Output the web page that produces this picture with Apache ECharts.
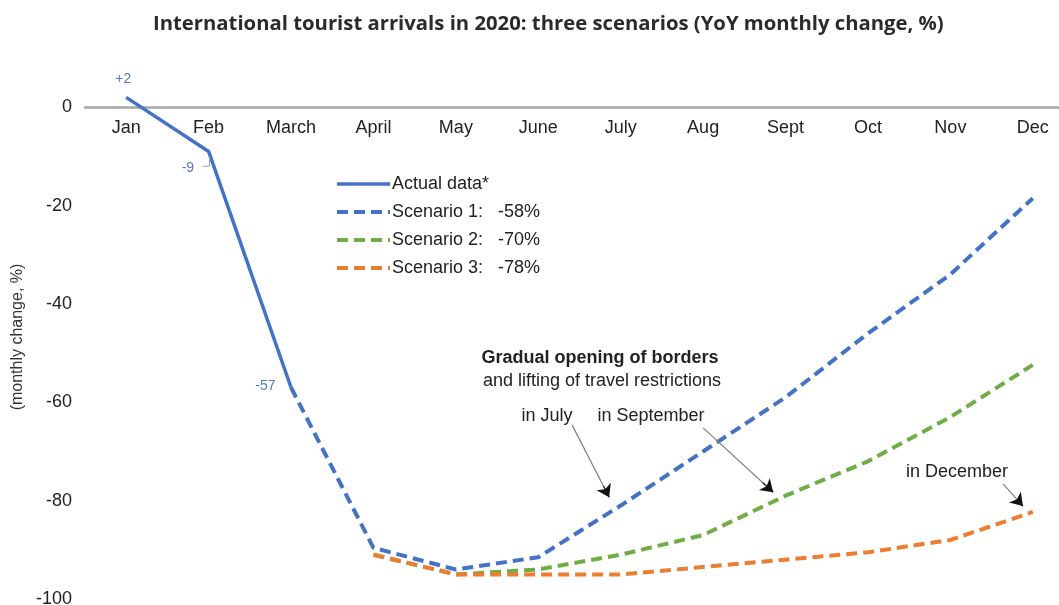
<!DOCTYPE html>
<html>
<head>
<meta charset="utf-8">
<script src="https://cdn.jsdelivr.net/npm/echarts@6/dist/echarts.min.js"></script>
<style>html,body{margin:0;padding:0;background:#fff}#c{width:1059px;height:605px}</style>
</head>
<body>
<div id="c"></div>
<script>
const months = ['Jan','Feb','March','April','May','June','July','Aug','Sept','Oct','Nov','Dec'];
const actual = [2, -9, -57, null, null, null, null, null, null, null, null, null];
const scenario1 = [null, null, -57, -89.6, -94, -91.5, -81, -70, -59, -46, -34, -18.5];
const scenario2 = [null, null, null, -91, -95, -94, -91, -87, -79, -72, -63, -52.4];
const scenario3 = [null, null, null, -91, -95, -95, -95, -93.5, -92, -90.5, -88, -82.3];
const yTicks = [0, -20, -40, -60, -80, -100];
const names = ['Actual data*', 'Scenario 1:   -58%', 'Scenario 2:   -70%', 'Scenario 3:   -78%'];
// annotation arrows in (month index, value) space
const arrows = [
  [[5.41, -64.6], [5.86, -79.3]],
  [[7.0, -65.2], [7.85, -78.3]],
  [[10.64, -76.6], [10.88, -81.1]]
];
const febHook = [[0.93, -12.0], [1.01, -12.0], [1.01, -10.2]];

const blue = '#4472C4', green = '#70AD47', orange = '#ED7D31';
const lblBlue = '#5479c8';
const font = 'Liberation Sans, Arial, sans-serif';

// short end pieces of each arrow for the black arrow heads
const arrowHeads = arrows.map(([a, b]) => ({coords: [[a[0] + (b[0] - a[0]) * 0.85, a[1] + (b[1] - a[1]) * 0.85], b]}));

const chart = echarts.init(document.getElementById('c'));
chart.setOption({
  animation: false,
  title: {
    text: 'International tourist arrivals in 2020: three scenarios (YoY monthly change, %)',
    left: 148, top: 9,
    textStyle: {fontFamily: 'Open Sans', fontWeight: 'bold', fontSize: 20.3, color: '#2b2b2b'}
  },
  legend: {
    orient: 'vertical', left: 335, top: 175, padding: 0,
    itemWidth: 53, itemHeight: 14, itemGap: 10,
    itemStyle: {opacity: 0},
    data: [
      {name: names[0], lineStyle: {width: 3.5}},
      {name: names[1], lineStyle: {width: 4}},
      {name: names[2], lineStyle: {width: 4}},
      {name: names[3], lineStyle: {width: 4}}
    ],
    textStyle: {fontFamily: font, fontSize: 18, lineHeight: 18, color: '#222', padding: [0, 0, 0, -3]}
  },
  grid: {left: 85, width: 989, top: 58, bottom: 6, containLabel: false, outerBoundsMode: 'none'},
  xAxis: [{
    type: 'category', data: months, boundaryGap: true, position: 'bottom', offset: -492,
    axisLine: {onZero: false, lineStyle: {color: '#a6a6a6', width: 2.5}},
    axisTick: {show: false},
    axisLabel: {margin: 12, fontFamily: font, fontSize: 18, color: '#222'},
    splitLine: {show: false}
  }, {
    type: 'value', min: -0.5, max: 11.5, show: false
  }],
  yAxis: {
    type: 'value', min: -100, max: 10, interval: 10,
    axisLine: {show: false}, axisTick: {show: false}, splitLine: {show: false},
    axisLabel: {
      margin: 13, fontFamily: font, fontSize: 18, color: '#222',
      formatter: v => yTicks.indexOf(v) >= 0 ? String(v) : ''
    }
  },
  series: [
    {name: names[2], type: 'line', data: scenario2, symbol: 'none', z: 2,
     lineStyle: {color: green, width: 4, type: [11, 6]}, itemStyle: {color: green}},
    {name: names[3], type: 'line', data: scenario3, symbol: 'none', z: 3,
     lineStyle: {color: orange, width: 4, type: [11, 6]}, itemStyle: {color: orange}},
    {name: names[1], type: 'line', data: scenario1, symbol: 'none', z: 4,
     lineStyle: {color: blue, width: 4, type: [11, 6]}, itemStyle: {color: blue}},
    {name: names[0], type: 'line', symbol: 'circle', symbolSize: 1, showSymbol: true, z: 5, clip: false,
     lineStyle: {color: blue, width: 3.5}, itemStyle: {color: blue, borderWidth: 0},
     data: actual.map((v, i) => {
       if (v === null) return null;
       const lab = {show: true, color: lblBlue, fontFamily: font, fontSize: 14,
                    formatter: p => (p.value > 0 ? '+' : '') + p.value};
       if (i === 0) { lab.position = 'top'; lab.offset = [-3, -6]; }
       if (i === 1) { lab.position = 'left'; lab.offset = [-9, 17]; }
       if (i === 2) { lab.position = 'left'; lab.offset = [-10, -1]; }
       return {value: v, label: lab};
     })
    },
    {type: 'lines', coordinateSystem: 'cartesian2d', xAxisIndex: 1, yAxisIndex: 0, z: 6,
     symbol: 'none',
     lineStyle: {color: '#7f7f7f', width: 1.2, opacity: 1, curveness: 0},
     data: arrows.map(c => ({coords: c}))
    },
    {type: 'lines', coordinateSystem: 'cartesian2d', xAxisIndex: 1, yAxisIndex: 0, z: 7,
     symbol: ['none', 'arrow'], symbolSize: [0, 12],
     lineStyle: {color: '#111', width: 1.2, opacity: 1, curveness: 0},
     data: arrowHeads
    },
    {type: 'lines', coordinateSystem: 'cartesian2d', xAxisIndex: 1, yAxisIndex: 0, polyline: true, z: 6,
     symbol: 'none',
     lineStyle: {color: '#a0a0a0', width: 1, opacity: 1},
     data: [{coords: febHook}]
    }
  ],
  graphic: [
    {type: 'text', x: 18, y: 337, rotation: Math.PI / 2,
     style: {text: '(monthly change, %)', fontFamily: font, fontSize: 16, fill: '#333', align: 'center', verticalAlign: 'middle'}},
    {type: 'text', x: 600, y: 358,
     style: {text: 'Gradual opening of borders', fontFamily: font, fontSize: 18, fontWeight: 'bold', fill: '#222', align: 'center', verticalAlign: 'middle'}},
    {type: 'text', x: 602, y: 381,
     style: {text: 'and lifting of travel restrictions', fontFamily: font, fontSize: 18, fill: '#222', align: 'center', verticalAlign: 'middle'}},
    {type: 'text', x: 547, y: 416,
     style: {text: 'in July', fontFamily: font, fontSize: 18, fill: '#222', align: 'center', verticalAlign: 'middle'}},
    {type: 'text', x: 651, y: 416,
     style: {text: 'in September', fontFamily: font, fontSize: 18, fill: '#222', align: 'center', verticalAlign: 'middle'}},
    {type: 'text', x: 957, y: 472,
     style: {text: 'in December', fontFamily: font, fontSize: 18, fill: '#222', align: 'center', verticalAlign: 'middle'}}
  ]
});
</script>
</body>
</html>
